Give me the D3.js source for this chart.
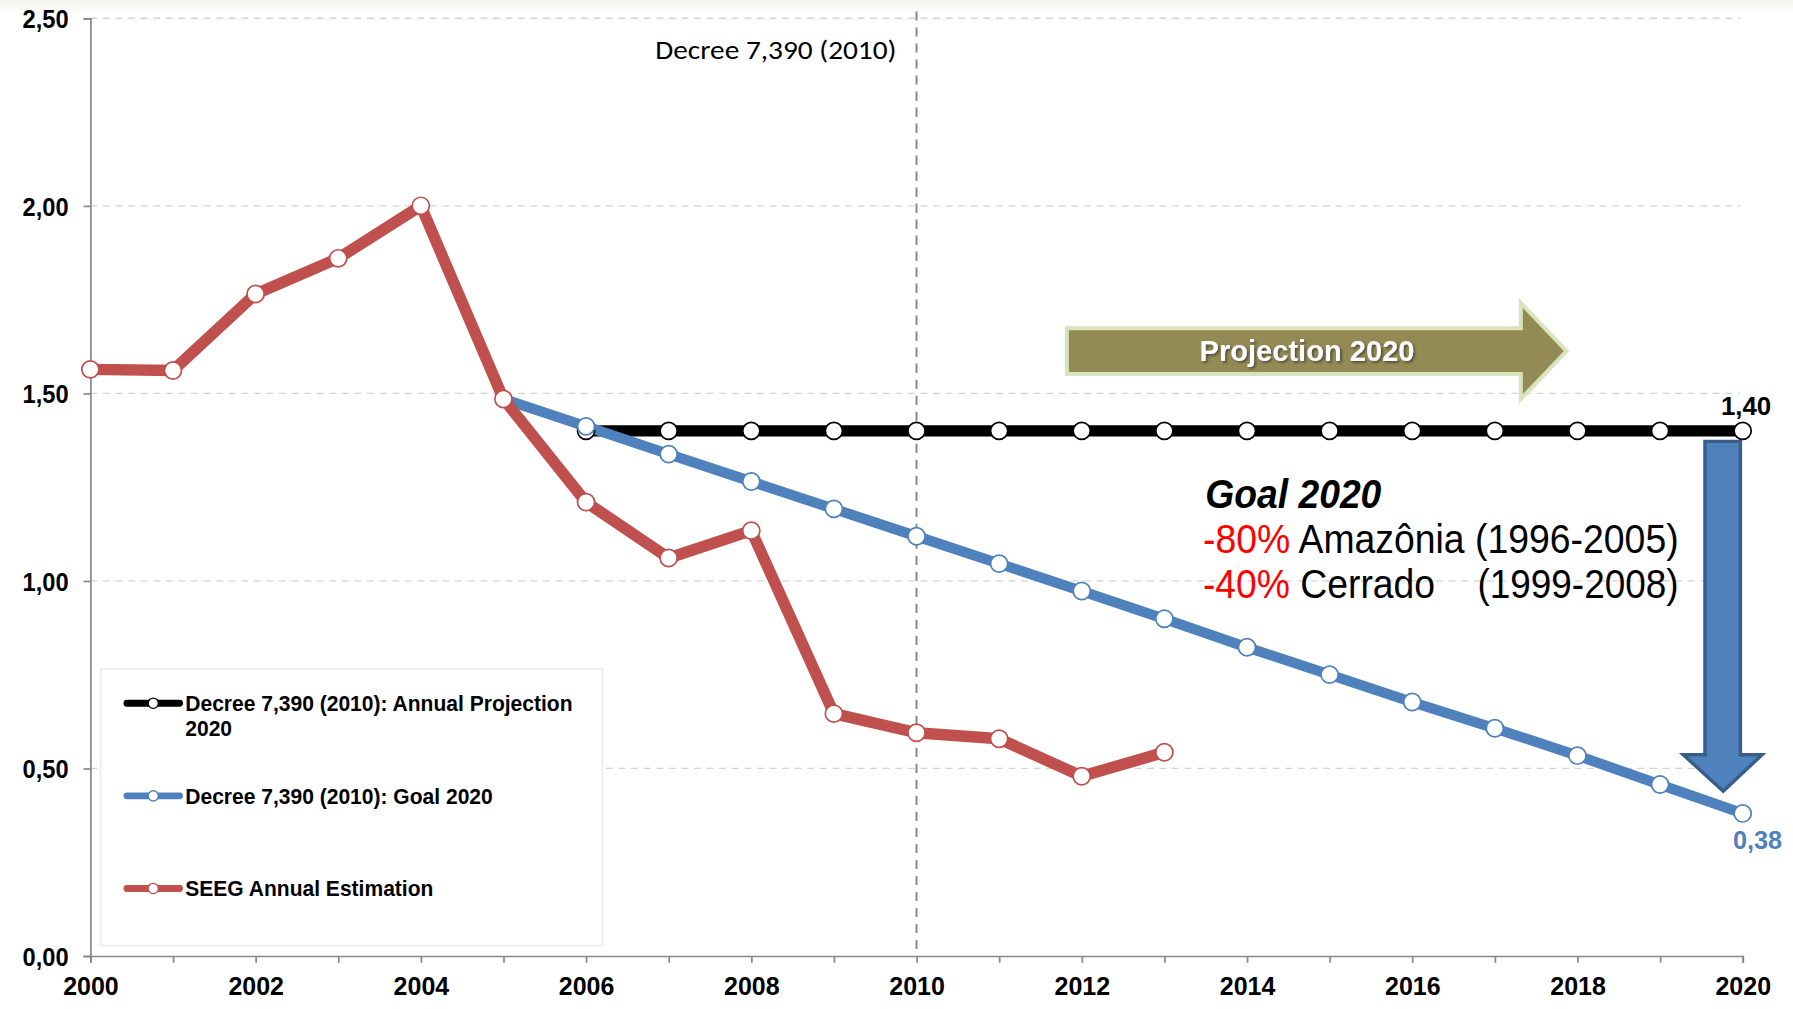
<!DOCTYPE html>
<html><head><meta charset="utf-8">
<script src="https://cdn.jsdelivr.net/npm/d3@7"></script>
<style>
html,body{margin:0;padding:0;background:#fff;}
svg{display:block;}
</style></head>
<body>
<svg id="chart" width="1793" height="1009" viewBox="0 0 1568 882.4"></svg>
<script>
const years = d3.range(2000, 2021);
const seegYears = [2000,2001,2002,2003,2004,2005,2006,2007,2008,2009,2010,2011,2012,2013];
const seegValues = [1.564,1.561,1.765,1.86,2.0,1.485,1.21,1.061,1.134,0.646,0.595,0.579,0.479,0.543];
const projYears = [2005,2006,2007,2008,2009,2010,2011,2012,2013,2014,2015,2016,2017,2018,2019,2020];
const projValues = [1.485,1.40,1.40,1.40,1.40,1.40,1.40,1.40,1.40,1.40,1.40,1.40,1.40,1.40,1.40,1.40];
const goalYears = [2005,2006,2007,2008,2009,2010,2011,2012,2013,2014,2015,2016,2017,2018,2019,2020];
const goalValues = [1.485,1.412,1.338,1.265,1.192,1.119,1.046,0.973,0.899,0.823,0.75,0.677,0.607,0.534,0.457,0.38];
const yTicks = [0,0.5,1.0,1.5,2.0,2.5];
const xLabelYears = [2000,2002,2004,2006,2008,2010,2012,2014,2016,2018,2020];
const legendLabels = [["Decree 7,390 (2010): Annual Projection","2020"],["Decree 7,390 (2010): Goal 2020"],["SEEG Annual Estimation"]];

const svg = d3.select("#chart");
const x = d3.scaleLinear().domain([2000,2020]).range([79,1524]);
const y = d3.scaleLinear().domain([0,2.5]).range([836,16]);
const fmt = v => d3.format(".2f")(v).replace(".", ",");
const sans = "'Liberation Sans',Arial,sans-serif";

function squeeze(sel, f){
  sel.each(function(){
    const L = this.getComputedTextLength();
    d3.select(this).attr("textLength", L*f).attr("lengthAdjust","spacingAndGlyphs");
  });
}
function fitTo(sel, w){
  sel.attr("textLength", w).attr("lengthAdjust","spacingAndGlyphs");
}

// top tint
const defs = svg.append("defs");
const g0 = defs.append("linearGradient").attr("id","topg").attr("x1",0).attr("x2",0).attr("y1",0).attr("y2",1);
g0.append("stop").attr("offset",0).attr("stop-color","#f4f4ee");
g0.append("stop").attr("offset",1).attr("stop-color","#ffffff");
svg.append("rect").attr("x",0).attr("y",0).attr("width",1568).attr("height",14).attr("fill","url(#topg)");
const sh = defs.append("filter").attr("id","shadow").attr("x","-10%").attr("y","-30%").attr("width","130%").attr("height","160%");
sh.append("feDropShadow").attr("dx",1.5).attr("dy",1.5).attr("stdDeviation",1).attr("flood-color","#333").attr("flood-opacity",0.7);

// gridlines
svg.append("g").selectAll("line").data(yTicks.filter(d=>d>0)).join("line")
  .attr("x1",x(2000)).attr("x2",1522).attr("y1",d=>y(d)).attr("y2",d=>y(d))
  .attr("stroke","#d4d4d4").attr("stroke-width",1.2).attr("stroke-dasharray","6,5");

// y axis
const yAxis = svg.append("g").attr("transform",`translate(${x(2000)},0)`)
  .call(d3.axisLeft(y).tickValues(yTicks).tickFormat(fmt).tickSize(6));
yAxis.select(".domain").attr("stroke","#888").attr("stroke-width",1.5);
yAxis.selectAll(".tick line").attr("stroke","#888").attr("stroke-width",1.5);
yAxis.selectAll("text").attr("font-family",sans).attr("font-weight","bold").attr("font-size",23).attr("fill","#000").attr("x",-19).attr("dy","0.35em");
squeeze(yAxis.selectAll("text"), 0.9);

// x axis
const xAxis = svg.append("g").attr("transform",`translate(0,${y(0)})`)
  .call(d3.axisBottom(x).tickValues(years).tickFormat(d=> xLabelYears.includes(d) ? String(d) : "").tickSize(6));
xAxis.select(".domain").attr("stroke","#888").attr("stroke-width",1.5);
xAxis.selectAll(".tick line").attr("stroke","#888").attr("stroke-width",1.5);
xAxis.selectAll("text").attr("font-family",sans).attr("font-weight","bold").attr("font-size",23).attr("fill","#000").attr("y",18).attr("dy","0.71em");
squeeze(xAxis.selectAll("text").filter(function(){return this.textContent!=="";}), 0.95);

// decree vertical line
svg.append("line").attr("x1",x(2010)).attr("x2",x(2010)).attr("y1",10).attr("y2",y(0))
  .attr("stroke","#7f7f7f").attr("stroke-width",1.6).attr("stroke-dasharray","8,6");
svg.append("text").attr("x",784).attr("y",52).attr("text-anchor","end")
  .attr("font-family","Carlito,Lato,'Open Sans',sans-serif").attr("font-size",24).attr("fill","#000")
  .text("Decree 7,390 (2010)").call(fitTo, 211);

const line = d3.line().x(d=>x(d[0])).y(d=>y(d[1]));

// legend box
svg.append("rect").attr("x",88).attr("y",585).attr("width",439).attr("height",242)
  .attr("fill","#fff").attr("stroke","#ececec").attr("stroke-width",1.5);

// projection arrow (olive)
const pa = [[933,287],[1330,287],[1330,265],[1370,307],[1330,349],[1330,327],[933,327]];
svg.append("path").attr("d",d3.line()(pa)+"Z").attr("fill","#948a54").attr("stroke","#d7e4bd").attr("stroke-width",3.5);
svg.append("text").attr("x",1143).attr("y",307).attr("dy","0.35em").attr("text-anchor","middle")
  .attr("font-family",sans).attr("font-weight","bold").attr("font-size",26).attr("fill","#fff")
  .attr("filter","url(#shadow)").text("Projection 2020").call(fitTo, 188);

// black projection series
const projData = projYears.map((d,i)=>[d,projValues[i]]);
svg.append("path").attr("d",line(projData.slice(0,2))).attr("fill","none").attr("stroke","#000").attr("stroke-width",2);
svg.append("path").attr("d",line(projData.slice(1))).attr("fill","none").attr("stroke","#000").attr("stroke-width",10);

// blue goal series
const goalData = goalYears.map((d,i)=>[d,goalValues[i]]);
svg.append("path").attr("d",line(goalData)).attr("fill","none").attr("stroke","#4f81bd").attr("stroke-width",9).attr("stroke-linejoin","round");

// red seeg
const seegData = seegYears.map((d,i)=>[d,seegValues[i]]);
svg.append("path").attr("d",line(seegData)).attr("fill","none").attr("stroke","#c0504d").attr("stroke-width",10).attr("stroke-linejoin","round");

// markers
svg.append("g").selectAll("circle").data(projData.slice(1)).join("circle")
  .attr("cx",d=>x(d[0])).attr("cy",d=>y(d[1])).attr("r",7.5).attr("fill","#fff").attr("stroke","#000").attr("stroke-width",1.5);
svg.append("g").selectAll("circle").data(goalData.slice(1)).join("circle")
  .attr("cx",d=>x(d[0])).attr("cy",d=>y(d[1])).attr("r",7.5).attr("fill","#fff").attr("stroke","#4f81bd").attr("stroke-width",1.5);
svg.append("g").selectAll("circle").data(seegData).join("circle")
  .attr("cx",d=>x(d[0])).attr("cy",d=>y(d[1])).attr("r",7.5).attr("fill","#fff").attr("stroke","#c0504d").attr("stroke-width",1.5);

// blue down arrow
const da = [[1491,386],[1522,386],[1522,660],[1541,660],[1507,692],[1472,660],[1491,660]];
svg.append("path").attr("d",d3.line()(da)+"Z").attr("fill","#4f81bd").attr("stroke","#385d8a").attr("stroke-width",3);

// value labels
svg.append("text").attr("x",x(2020)+3).attr("y",y(projValues[projValues.length-1])-22).attr("dy","0.35em").attr("text-anchor","middle")
  .attr("font-family",sans).attr("font-weight","bold").attr("font-size",22).attr("fill","#000")
  .text(fmt(projValues[projValues.length-1])).call(fitTo, 44);
svg.append("text").attr("x",x(2020)+13).attr("y",y(goalValues[goalValues.length-1])+23).attr("dy","0.35em").attr("text-anchor","middle")
  .attr("font-family",sans).attr("font-weight","bold").attr("font-size",22).attr("fill","#4f81bd")
  .text(fmt(goalValues[goalValues.length-1])).call(fitTo, 43);

// goal text
const gt = svg.append("g").attr("font-family",sans).attr("font-size",35);
gt.append("text").attr("x",1054).attr("y",444).attr("font-weight","bold").attr("font-style","italic").attr("fill","#000")
  .text("Goal 2020").call(fitTo, 154);
const l1 = gt.append("text").attr("x",1052).attr("y",484).call(fitTo, 416);
l1.append("tspan").attr("fill","#ff0000").text("-80%");
l1.append("tspan").attr("fill","#000").text(" Amazônia (1996-2005)");
const l2 = gt.append("text").attr("x",1052).attr("y",523).call(fitTo, 203);
l2.append("tspan").attr("fill","#ff0000").text("-40%");
l2.append("tspan").attr("fill","#000").text(" Cerrado");
gt.append("text").attr("x",1292).attr("y",523).attr("fill","#000").text("(1999-2008)").call(fitTo, 176);

// legend entries
const legColors = ["#000","#4f81bd","#c0504d"];
const legY = [615,696,777];
legColors.forEach((c,i)=>{
  const gy = legY[i];
  svg.append("line").attr("x1",111).attr("x2",157).attr("y1",gy).attr("y2",gy).attr("stroke",c).attr("stroke-width",6).attr("stroke-linecap","round");
  svg.append("circle").attr("cx",134).attr("cy",gy).attr("r",4.5).attr("fill","#fff").attr("stroke",c).attr("stroke-width",1.2);
  legendLabels[i].forEach((t,j)=>{
    svg.append("text").attr("x",162).attr("y",gy+j*22).attr("dy","0.35em")
      .attr("font-family",sans).attr("font-weight","bold").attr("font-size",20).attr("fill","#000").text(t)
      .call(squeeze, 0.92);
  });
});
</script>
</body></html>
